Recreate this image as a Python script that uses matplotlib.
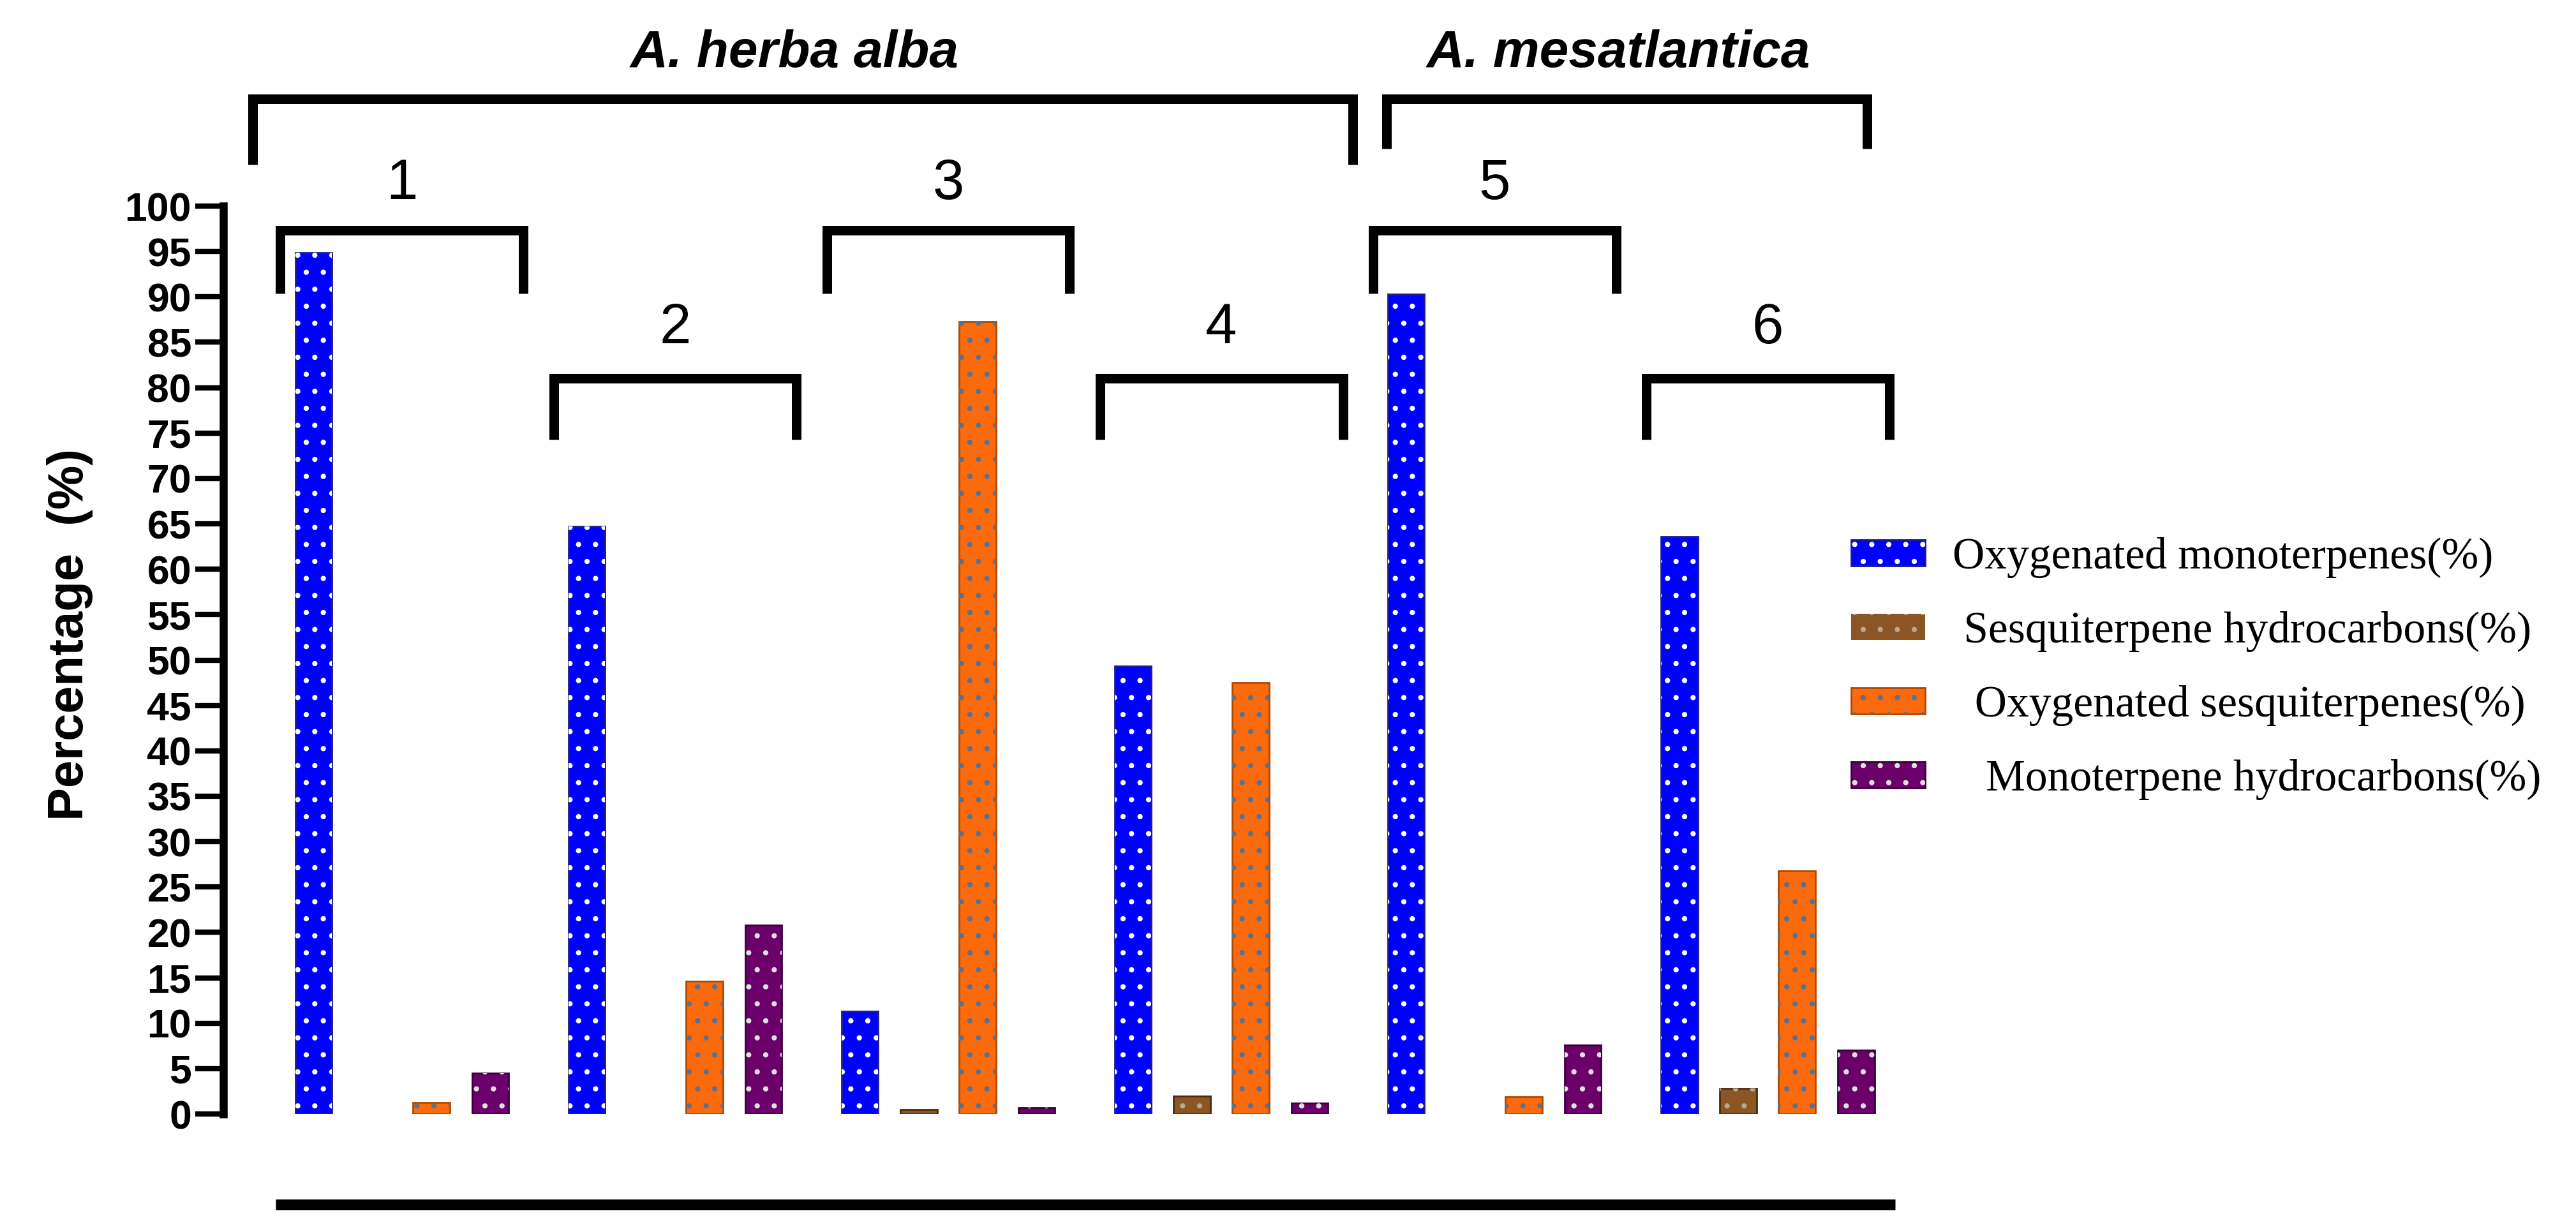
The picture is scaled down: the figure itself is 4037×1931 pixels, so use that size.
import numpy as np
import matplotlib
matplotlib.use("Agg")
import matplotlib.pyplot as plt

DPI = 160
K = 100 / DPI  # sizes below were measured at 100 dpi

plt.rcParams['font.family'] = ['Liberation Sans', 'DejaVu Sans']
plt.rcParams['hatch.linewidth'] = 1.3

# data
groups = ['1', '2', '3', '4', '5', '6']
series = ['Oxygenated monoterpenes(%)',
          ' Sesquiterpene hydrocarbons(%)',
          '  Oxygenated sesquiterpenes(%)',
          '   Monoterpene hydrocarbons(%)']
oxy_mono = [94.9, 64.7, 11.3, 49.3, 90.3, 63.6]
sesq_hc = [0, 0, 0.5, 2.0, 0, 2.8]
oxy_sesq = [1.3, 14.6, 87.3, 47.5, 1.9, 26.8]
mono_hc = [4.5, 20.8, 0.7, 1.2, 7.6, 7.0]
species = ['A. herba alba', 'A. mesatlantica']
species_groups = [[0, 1, 2, 3], [4, 5]]

fill_colors = ['#0000ff', '#8b5524', '#fb6a0c', '#6b006b']
edge_colors = ['#1c1c8c', '#4a2a10', '#b04800', '#3a003a']
dot_colors = ['#ffffff', '#b8a890', '#5a7090', '#e0e0e0']

fig = plt.figure(figsize=(4037 / DPI, 1931 / DPI), dpi=DPI)
ax = fig.add_axes([0.0867, 0.0958, 0.6631, 0.7369])

x = np.arange(len(groups))
step = 0.2157
width = 0.135
handles = []
for k, vals in enumerate([oxy_mono, sesq_hc, oxy_sesq, mono_hc]):
    pos = x + (k - 1.5) * step
    lw = [2 * K if v > 0 else 0 for v in vals]
    b = ax.bar(pos, vals, width, color=fill_colors[k],
               edgecolor=edge_colors[k], linewidth=lw)
    h = ax.bar(pos, vals, width, fill=False, hatch='.',
               edgecolor=dot_colors[k], linewidth=0)
    handles.append((b, h))

ax.set_xlim(-0.654, 5.6)
ax.set_ylim(0, 100)
ax.set_yticks(range(0, 101, 5))
ax.set_xticks([])
for s in ['top', 'right', 'bottom']:
    ax.spines[s].set_visible(False)
ax.spines['left'].set_linewidth(9 * K)
ax.tick_params(axis='y', length=32 * K, width=6 * K, pad=4 * K,
               labelsize=45 * K)
plt.setp(ax.get_yticklabels(), fontweight='bold')

ax.set_ylabel('Percentage  (%)', fontsize=56 * K, fontweight='bold')
ax.yaxis.set_label_coords(-0.090, 0.528)
ax.yaxis.label.set_va('center')

# brackets over each sample
br = dict(color='k', lw=10.8 * K, clip_on=False,
          solid_joinstyle='miter', solid_capstyle='butt')
for i, g in enumerate(groups):
    if i % 2 == 0:
        top, leg, lab = 97.3, 90.4, 100.8
    else:
        top, leg, lab = 81.0, 74.3, 84.9
    ax.plot([i - 0.445, i - 0.445, i + 0.445, i + 0.445],
            [leg, top, top, leg], **br)
    ax.text(i, lab, g, ha='center', va='baseline', fontsize=64 * K,
            clip_on=False)

# species brackets
pads = [(0.547, 0.481), (0.395, 0.364)]
legs = [104.6, 106.3]
for name, idx, (pl, pr), lb in zip(species, species_groups, pads, legs):
    l = idx[0] - pl
    r = idx[-1] + pr
    ax.plot([l, l, r, r], [lb, 111.8, 111.8, lb], **br)
    ax.text((l + r) / 2 - 0.03, 115.3, name, ha='center', va='baseline',
            fontsize=59 * K, fontweight='bold', fontstyle='italic',
            clip_on=False)

# line under the chart
ax.plot([-0.463, 5.467], [-10, -10], color='k', lw=12.2 * K,
        clip_on=False, solid_capstyle='butt')

fig.legend(handles, series, loc='upper left',
           bbox_to_anchor=(2901 / 4037, 1 - 842 / 1931), frameon=False,
           prop={'family': 'Liberation Serif', 'size': 50 * K},
           handlelength=1.67, handleheight=0.52, handletextpad=0.62,
           labelspacing=0.75, borderpad=0, borderaxespad=0)

fig.savefig('out.png', dpi=DPI, facecolor='white')
